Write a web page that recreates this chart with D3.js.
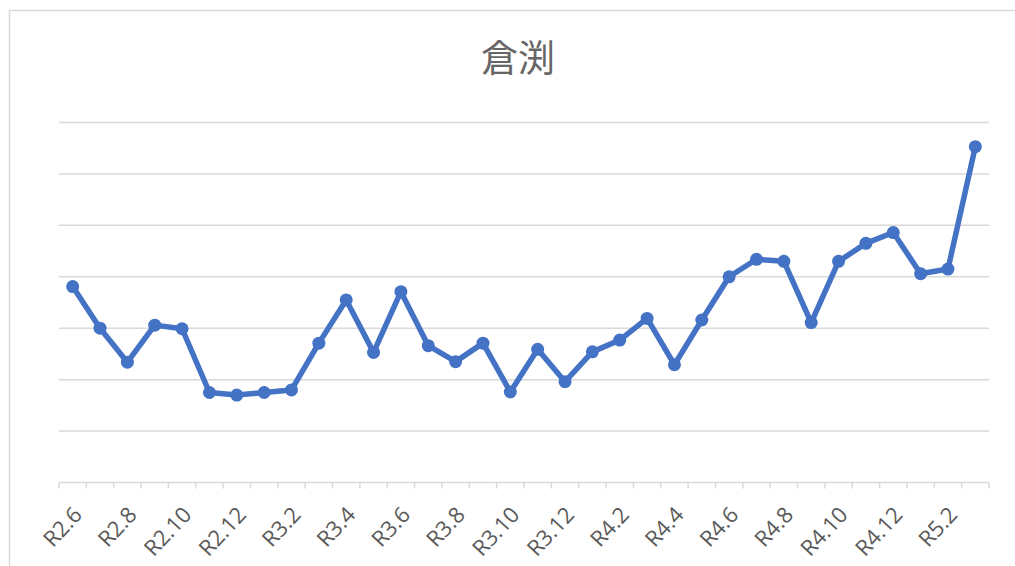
<!DOCTYPE html>
<html>
<head>
<meta charset="utf-8">
<script src="https://cdn.jsdelivr.net/npm/d3@7"></script>
<style>
  html, body { margin: 0; padding: 0; background: #fff; }
  svg { display: block; }
</style>
</head>
<body>
<svg id="chart" width="1015" height="566"></svg>
<script>
// Monthly series for 倉渕, R2.6 – R5.3
const months = [
  "R2.6","R2.7","R2.8","R2.9","R2.10","R2.11","R2.12",
  "R3.1","R3.2","R3.3","R3.4","R3.5","R3.6","R3.7","R3.8","R3.9","R3.10","R3.11","R3.12",
  "R4.1","R4.2","R4.3","R4.4","R4.5","R4.6","R4.7","R4.8","R4.9","R4.10","R4.11","R4.12",
  "R5.1","R5.2","R5.3"
];
const values = [
  38.1, 30.0, 23.4, 30.6, 29.9, 17.5, 17.0,
  17.5, 18.0, 27.1, 35.5, 25.3, 37.1, 26.6, 23.5, 27.1, 17.6, 25.9, 19.6,
  25.4, 27.7, 31.9, 22.9, 31.6, 40.0, 43.4, 43.0, 31.1, 43.0, 46.5, 48.6,
  40.6, 41.5, 65.3
];
// Every other month carries a label
const tickLabels = [
  "R2.6","R2.8","R2.10","R2.12","R3.2","R3.4","R3.6","R3.8","R3.10","R3.12",
  "R4.2","R4.4","R4.6","R4.8","R4.10","R4.12","R5.2"
];
const gridValues = [0, 10, 20, 30, 40, 50, 60, 70];
const title = "倉渕";

const svg = d3.select("#chart");
const margin = { left: 59, right: 26, top: 122.5, bottom: 83.5 };
const W = 1015, H = 566;

// Chart frame (continues past the right and bottom edges)
svg.append("rect")
  .attr("x", 9.5).attr("y", 10.5)
  .attr("width", 1030).attr("height", 600)
  .attr("fill", "#fff")
  .attr("stroke", "#d9d9d9").attr("stroke-width", 1.5);

const x = d3.scaleBand()
  .domain(months)
  .range([margin.left, W - margin.right]);

const y = d3.scaleLinear()
  .domain([0, 70])
  .range([H - margin.bottom, margin.top]);

// Title
svg.append("text")
  .attr("x", 518).attr("y", 72)
  .attr("text-anchor", "middle")
  .attr("font-family", "'Noto Sans CJK JP', sans-serif")
  .attr("font-size", 37)
  .attr("fill", "#666666")
  .text(title);

// Horizontal gridlines
svg.append("g")
  .selectAll("line")
  .data(gridValues.slice(1))
  .join("line")
  .attr("x1", margin.left).attr("x2", W - margin.right)
  .attr("y1", d => y(d)).attr("y2", d => y(d))
  .attr("stroke", "#d9d9d9").attr("stroke-width", 1.5);

// Category axis with ticks between categories
const axisY = y(0);
const xAxis = svg.append("g").attr("transform", `translate(0,${axisY})`);
xAxis.append("line")
  .attr("x1", margin.left).attr("x2", W - margin.right)
  .attr("stroke", "#d9d9d9").attr("stroke-width", 1.5);
const boundaries = months.map(m => x(m)).concat([x(months[months.length - 1]) + x.bandwidth()]);
xAxis.selectAll("line.tick")
  .data(boundaries)
  .join("line")
  .attr("class", "tick")
  .attr("x1", d => d).attr("x2", d => d)
  .attr("y1", 0).attr("y2", 6)
  .attr("stroke", "#d9d9d9").attr("stroke-width", 1.5);

xAxis.selectAll("text")
  .data(tickLabels)
  .join("text")
  .attr("text-anchor", "end")
  .attr("font-family", "'Open Sans', 'Noto Sans', sans-serif")
  .attr("font-size", 22)
  .attr("fill", "#595959")
  .attr("transform", d => `translate(${x(d) + x.bandwidth() / 2 + 5},${28}) rotate(-47)`)
  .attr("dy", "0.35em")
  .text(d => d);

// Series line and markers
const cx = d => x(d) + x.bandwidth() / 2;
const line = d3.line()
  .x((d, i) => cx(months[i]))
  .y(d => y(d));

svg.append("path")
  .datum(values)
  .attr("d", line)
  .attr("fill", "none")
  .attr("stroke", "#4472C4")
  .attr("stroke-width", 5.5)
  .attr("stroke-linejoin", "round");

svg.append("g")
  .selectAll("circle")
  .data(values)
  .join("circle")
  .attr("cx", (d, i) => cx(months[i]))
  .attr("cy", d => y(d))
  .attr("r", 6.5)
  .attr("fill", "#4472C4");
</script>
</body>
</html>
